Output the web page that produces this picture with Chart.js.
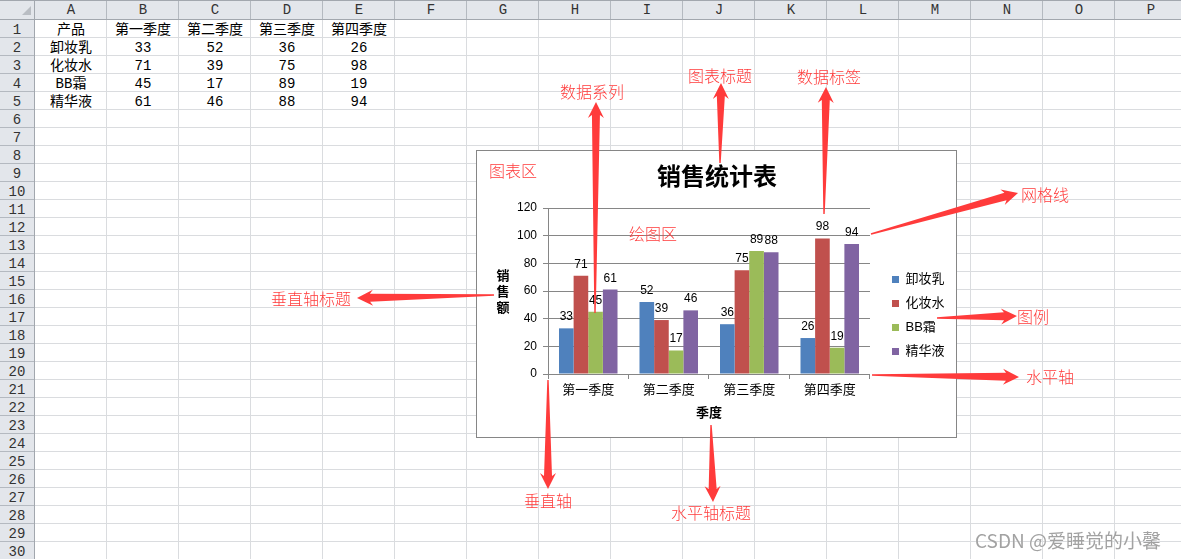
<!DOCTYPE html>
<html><head><meta charset="utf-8">
<script src="https://cdn.jsdelivr.net/npm/chart.js@4.4.0/dist/chart.umd.min.js"></script>
<style>
html,body{margin:0;padding:0;background:#fff;}
#page{position:relative;width:1181px;height:559px;overflow:hidden;background:#fff;font-family:"Noto Sans CJK SC",sans-serif;}
.abs{position:absolute;}
.cell{position:absolute;height:18px;line-height:18px;text-align:center;font-family:"Liberation Mono","Noto Sans CJK SC",monospace;font-size:14px;color:#000;white-space:nowrap;}
.hdr{position:absolute;text-align:center;font-family:"Liberation Mono","Noto Sans CJK SC",monospace;font-size:14px;color:#333;white-space:nowrap;}
.note{position:absolute;transform:translate(-50%,-50%);color:#ff3b3b;font-family:"Noto Sans CJK SC",sans-serif;font-size:16px;font-weight:300;line-height:1;white-space:nowrap;z-index:5;}
#chartBox{position:absolute;left:476px;top:150px;width:481px;height:288px;border:1px solid #868686;box-sizing:border-box;background:#fff;z-index:2;}
#chartBox canvas{position:absolute;left:0;top:0;}
#arrows{position:absolute;left:0;top:0;z-index:4;}
#wm{position:absolute;left:975px;top:527px;font-family:"Noto Sans CJK SC",sans-serif;font-size:19px;color:#a2a2a2;line-height:26px;white-space:nowrap;z-index:6;text-shadow:0 0 1px #fff;}
</style></head>
<body><div id="page">
<div id="chartBox"><canvas id="c" width="479" height="286"></canvas></div>
<svg id="arrows" width="1181" height="559"></svg>
<div id="wm">CSDN @爱睡觉的小馨</div>
</div>
<script>
// ---------- data ----------
const quarters = ['第一季度', '第二季度', '第三季度', '第四季度'];
const products = ['卸妆乳', '化妆水', 'BB霜', '精华液'];
const cleanserSales = [33, 52, 36, 26];
const tonerSales = [71, 39, 75, 98];
const bbCreamSales = [45, 17, 89, 19];
const serumSales = [61, 46, 88, 94];
const yAxisTicks = [0, 20, 40, 60, 80, 100, 120];
const chartTitle = '销售统计表';
const xAxisTitle = '季度';
const yAxisTitle = ['销', '售', '额'];
const tableHeader = '产品';
const columnLetters = ['A','B','C','D','E','F','G','H','I','J','K','L','M','N','O','P'];
const seriesList = [cleanserSales, tonerSales, bbCreamSales, serumSales];

// ---------- spreadsheet background ----------
const page = document.getElementById('page');
const chartBox = document.getElementById('chartBox');
function box(css, cls, text) {
  const d = document.createElement('div');
  d.className = cls || 'abs';
  d.style.cssText = css;
  if (text != null) d.textContent = text;
  page.insertBefore(d, chartBox);
  return d;
}
const COL0 = 35, COLW = 72, HDRH = 19, ROWH = 18;
// cell grid lines
for (let y = HDRH + ROWH; y < 559; y += ROWH) box(`left:35px;top:${y}px;width:1146px;height:1px;background:#dadcdf`);
for (let x = COL0 + COLW - 1; x < 1181; x += COLW) box(`left:${x}px;top:20px;width:1px;height:539px;background:#dadcdf`);
// headers
box('left:0;top:0;width:1181px;height:19px;background:#e3e6eb');
box('left:0;top:0;width:34px;height:559px;background:#e3e6eb');
box('left:0;top:0;width:1181px;height:1px;background:#a2a7ae');
box('left:0;top:19px;width:1181px;height:1px;background:#a2a7ae');
box('left:34px;top:0;width:1px;height:559px;background:#a2a7ae');
for (let x = COL0 + COLW - 1; x < 1181; x += COLW) box(`left:${x}px;top:1px;width:1px;height:18px;background:#b4b9c0`);
for (let y = HDRH + ROWH; y < 559; y += ROWH) box(`left:0;top:${y}px;width:34px;height:1px;background:#b4b9c0`);
columnLetters.forEach((L, k) => box(`left:${COL0 + k * COLW}px;top:1px;width:${COLW}px;height:18px;line-height:18px`, 'hdr', L));
for (let r = 1; r <= 30; r++) box(`left:0;top:${HDRH + (r - 1) * ROWH + 2}px;width:34px;height:18px;line-height:18px`, 'hdr', String(r));
// corner triangle
box('left:22px;top:6px;width:0;height:0;border-left:9px solid transparent;border-bottom:9px solid #b9bdc3');
// table content
const tableRows = [[tableHeader, ...quarters]];
products.forEach((p, i) => tableRows.push([p, ...seriesList[i]]));
tableRows.forEach((row, r) => row.forEach((v, c) =>
  box(`left:${COL0 + c * COLW}px;top:${HDRH + r * ROWH + 2}px;width:${COLW}px`, 'cell', String(v))));

// ---------- annotations ----------
const notes = [
  ['图表区', 513, 170], ['绘图区', 653, 233], ['数据系列', 592, 91], ['图表标题', 720, 75],
  ['数据标签', 829, 76], ['网格线', 1045, 194], ['图例', 1033, 316], ['水平轴', 1050, 376],
  ['垂直轴标题', 311, 298], ['垂直轴', 548, 500], ['水平轴标题', 711, 512]
];
notes.forEach(([t, x, y]) => { const d = document.createElement('div'); d.className = 'note'; d.style.left = x + 'px'; d.style.top = y + 'px'; d.textContent = t; page.appendChild(d); });

const arrows = [
  [595, 313, 596, 102], [720, 163, 721, 83], [824, 214, 826, 87], [871, 234, 1018, 193],
  [494, 295, 357, 298], [937, 318, 1017, 316], [872, 375, 1019, 377], [548, 380, 548, 489],
  [711, 425, 713, 502]
];
const svg = document.getElementById('arrows');
arrows.forEach(([x1, y1, x2, y2]) => {
  const dx = x2 - x1, dy = y2 - y1, L = Math.hypot(dx, dy), ux = dx / L, uy = dy / L, px = -uy, py = ux;
  const headLen = 16, headW = 8, w0 = 0.7, w1 = 4, notch = 3;
  const jx = x2 - ux * (headLen - notch), jy = y2 - uy * (headLen - notch);
  const bx = x2 - ux * headLen, by = y2 - uy * headLen;
  const pts = [
    [x1 + px * w0, y1 + py * w0], [jx + px * w1, jy + py * w1], [bx + px * headW, by + py * headW], [x2, y2],
    [bx - px * headW, by - py * headW], [jx - px * w1, jy - py * w1], [x1 - px * w0, y1 - py * w0]
  ];
  const poly = document.createElementNS('http://www.w3.org/2000/svg', 'polygon');
  poly.setAttribute('points', pts.map(p => p.map(v => v.toFixed(2)).join(',')).join(' '));
  poly.setAttribute('fill', '#ff3b3b');
  svg.appendChild(poly);
});

// ---------- chart ----------
Chart.defaults.font.family = '"Liberation Sans","Noto Sans CJK SC",sans-serif';
Chart.defaults.color = '#000';
const PL = 13.5, PR = 12.5;
const AXIS = '#868686';

const dataLabels = {
  id: 'dataLabels',
  afterDatasetsDraw(chart) {
    const ctx = chart.ctx;
    ctx.save();
    ctx.font = '12px "Liberation Sans","Noto Sans CJK SC",sans-serif';
    ctx.fillStyle = '#000';
    ctx.textAlign = 'center';
    ctx.textBaseline = 'alphabetic';
    chart.data.datasets.forEach((ds, i) => {
      chart.getDatasetMeta(i).data.forEach((bar, j) => ctx.fillText(String(ds.data[j]), bar.x, bar.y - 8));
    });
    ctx.restore();
  }
};
const yTitle = {
  id: 'yTitle',
  afterDraw(chart) {
    const ctx = chart.ctx, ca = chart.chartArea;
    ctx.save();
    ctx.font = 'bold 13px "Noto Sans CJK SC",sans-serif';
    ctx.fillStyle = '#000';
    ctx.textAlign = 'center';
    ctx.textBaseline = 'middle';
    const mid = (ca.top + ca.bottom) / 2, n = yAxisTitle.length;
    yAxisTitle.forEach((ch, k) => ctx.fillText(ch, ca.left - 45, mid + (k - (n - 1) / 2) * 16));
    ctx.restore();
  }
};
// Excel leaves a small gap between plot area and legend, and the legend sits a little low
const legendPlacement = {
  id: 'legendPlacement',
  afterLayout(chart) {
    const lg = chart.legend; if (!lg) return;
    const w = lg.width, h = lg.height;
    lg.left = chart.chartArea.right + 11; lg.right = lg.left + w;
    lg.top = chart.chartArea.top + 54; lg.bottom = lg.top + h;
  }
};

new Chart(document.getElementById('c'), {
  type: 'bar',
  data: {
    labels: quarters,
    datasets: [
      { label: products[0], data: cleanserSales, backgroundColor: '#4F81BD' },
      { label: products[1], data: tonerSales, backgroundColor: '#C0504D' },
      { label: products[2], data: bbCreamSales, backgroundColor: '#9BBB59' },
      { label: products[3], data: serumSales, backgroundColor: '#8064A2' }
    ]
  },
  options: {
    responsive: false, animation: false, devicePixelRatio: 1,
    layout: { padding: { left: PL, right: PR, top: 0, bottom: 0 } },
    datasets: { bar: { categoryPercentage: 0.727, barPercentage: 1 } },
    plugins: {
      title: { display: true, text: chartTitle, color: '#000', font: { size: 24, weight: 'bold', family: '"Noto Sans CJK SC",sans-serif', lineHeight: 1.2 }, padding: { top: 10.6, bottom: 17.6 } },
      legend: { position: 'right', align: 'start', labels: { boxWidth: 7, boxHeight: 7, padding: 11, color: '#000', font: { size: 13 } } },
      tooltip: { enabled: false }
    },
    scales: {
      x: {
        grid: { display: true, drawOnChartArea: false, drawTicks: true, tickLength: 5, color: AXIS, offset: true },
        border: { color: AXIS },
        ticks: { color: '#000', font: { size: 13 }, padding: 4 },
        title: { display: true, text: xAxisTitle, color: '#000', font: { size: 13, weight: 'bold' }, padding: { top: 0, bottom: 15.9 } },
        afterFit(s) { s.height = 63; }
      },
      y: {
        min: yAxisTicks[0], max: yAxisTicks[yAxisTicks.length - 1],
        ticks: { stepSize: yAxisTicks[1] - yAxisTicks[0], color: '#000', font: { size: 12 }, padding: 6 },
        grid: { color: AXIS, tickLength: 5 },
        border: { color: AXIS },
        afterFit(s) { s.width = 71 - PL; }
      }
    }
  },
  plugins: [dataLabels, yTitle, legendPlacement]
});
</script>
</body></html>
